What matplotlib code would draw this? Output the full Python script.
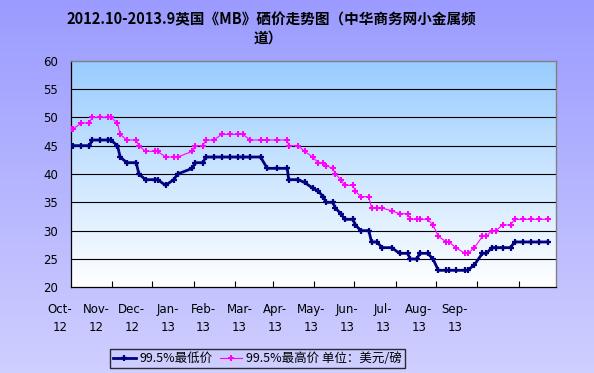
import matplotlib
matplotlib.use("Agg")
import matplotlib.pyplot as plt
import numpy as np
import pandas as pd
from matplotlib.colors import LinearSegmentedColormap
from matplotlib.lines import Line2D

plt.rcParams['font.family'] = ['Noto Sans CJK SC', 'DejaVu Sans']

title_lines = ["2012.10-2013.9英国《MB》硒价走势图（中华商务网小金属频", "道）"]
series_names = ["99.5%最低价", "99.5%最高价 单位：美元/磅"]
month_labels = ["Oct-\n12", "Nov-\n12", "Dec-\n12", "Jan-\n13", "Feb-\n13", "Mar-\n13",
                "Apr-\n13", "May-\n13", "Jun-\n13", "Jul-\n13", "Aug-\n13", "Sep-\n13"]
y_ticks = [20, 25, 30, 35, 40, 45, 50, 55, 60]

dates = ["2012-10-01", "2012-10-03", "2012-10-09", "2012-10-15", "2012-10-17", "2012-10-23",
         "2012-10-29", "2012-10-31", "2012-11-05", "2012-11-07", "2012-11-12", "2012-11-19",
         "2012-11-21", "2012-11-26", "2012-12-03", "2012-12-05", "2012-12-11", "2012-12-17",
         "2012-12-20", "2012-12-31", "2013-01-02", "2013-01-08", "2013-01-10", "2013-01-16",
         "2013-01-22", "2013-01-28", "2013-02-03", "2013-02-07", "2013-02-12", "2013-02-20",
         "2013-02-25", "2013-03-04", "2013-03-12", "2013-03-13", "2013-03-20", "2013-03-25",
         "2013-03-31", "2013-04-04", "2013-04-08", "2013-04-10", "2013-04-15", "2013-04-17",
         "2013-04-21", "2013-04-24", "2013-04-30", "2013-05-02", "2013-05-06", "2013-05-12",
         "2013-05-14", "2013-05-18", "2013-05-22", "2013-05-29", "2013-06-04", "2013-06-10",
         "2013-06-12", "2013-06-17", "2013-06-19", "2013-06-25", "2013-06-29", "2013-07-03",
         "2013-07-09", "2013-07-11", "2013-07-16", "2013-07-23", "2013-07-25", "2013-07-30",
         "2013-08-05", "2013-08-08", "2013-08-12", "2013-08-15", "2013-08-20", "2013-08-26",
         "2013-08-29", "2013-09-04", "2013-09-10", "2013-09-16", "2013-09-23"]

low = [45, 45, 45, 45, 46, 46, 46, 46, 45, 43, 42, 42,
       40, 39, 39, 39, 38, 39, 40, 41, 42, 42, 43, 43,
       43, 43, 43, 43, 43, 43, 41, 41, 41, 39, 39, 38.5,
       37.5, 37, 36, 35, 35, 34, 33, 32, 32, 31, 30, 30,
       28, 28, 27, 27, 26, 26, 25, 25, 26, 26, 25, 23,
       23, 23, 23, 23, 23, 24, 26, 26, 27, 27, 27, 27,
       28, 28, 28, 28, 28]

high = [48, 48, 49, 49, 50, 50, 50, 50, 49, 47, 46, 46,
        45, 44, 44, 44, 43, 43, 43, 44, 45, 45, 46, 46,
        47, 47, 47, 47, 46, 46, 46, 46, 46, 45, 45, 44,
        43, 42, 42, 41.5, 41, 40, 39, 38, 38, 37, 36, 36,
        34, 34, 34, 33.5, 33, 33, 32, 32, 32, 32, 31, 29,
        28, 28, 27, 26, 26, 27, 29, 29, 30, 30, 31, 31,
        32, 32, 32, 32, 32]

x = pd.to_datetime(dates)

W, H = 594, 373
fig = plt.figure(figsize=(W / 100, H / 100), dpi=100)

# figure background gradient
bg = fig.add_axes([0, 0, 1, 1], zorder=-10)
bg_cmap = LinearSegmentedColormap.from_list("bg", ["#CFCFFF", "#9B9BFF"])
bg.imshow(np.linspace(0, 1, 256).reshape(-1, 1)[::-1], cmap=bg_cmap, aspect='auto',
          extent=[0, 1, 0, 1])
bg.set_axis_off()

left, right, top, bottom = 70.7, 556, 60.7, 287.3
ax = fig.add_axes([left / W, 1 - bottom / H, (right - left) / W, (bottom - top) / H])
ax.set_facecolor('none')
pa_cmap = LinearSegmentedColormap.from_list("pa", ["#FFFFFF", "#99CCFF"])
ax.imshow(np.linspace(0, 1, 256).reshape(-1, 1)[::-1], cmap=pa_cmap, aspect='auto',
          extent=[0, 1, 0, 1], transform=ax.transAxes, zorder=0)

for v in y_ticks[1:-1]:
    ax.axhline(v, color='black', lw=0.8, zorder=1)

ax.plot(x, low, color='#000080', lw=2.0, marker='+', ms=5, mew=1.6, zorder=3,
        label=series_names[0])
ax.plot(x, high, color='#FF00FF', lw=0.8, marker='P', ms=4, mew=0, zorder=3,
        label=series_names[1])

ax.set_ylim(20, 60)
ax.set_yticks(y_ticks)
ax.set_yticklabels([str(v) for v in y_ticks], fontsize=8.5, family='DejaVu Sans')
ax.tick_params(axis='y', length=0, pad=9)
ax.set_xlim(pd.Timestamp("2012-10-01"), pd.Timestamp("2013-09-29"))
ax.set_xticks(pd.date_range("2012-11-01", "2013-09-01", freq="MS"))
ax.set_xticklabels([])
ax.tick_params(axis='x', direction='in', length=4, width=0.8, color='black')

for s in ['left', 'bottom']:
    ax.spines[s].set_color('black')
    ax.spines[s].set_linewidth(0.9)
for s in ['top', 'right']:
    ax.spines[s].set_color('#808080')
    ax.spines[s].set_linewidth(1.0)

# month labels
for i, lab in enumerate(month_labels):
    cx = 60 + i * 35.9
    fig.text(cx / W, 1 - 318.5 / H, lab, ha='center', va='center', ma='center',
             fontsize=8.5, family='DejaVu Sans', linespacing=1.45)

# title
fig.text(271 / W, 1 - 19 / H, title_lines[0], ha='center', va='center',
         fontsize=10.5, fontweight='bold')
fig.text(268 / W, 1 - 37.5 / H, title_lines[1], ha='center', va='center',
         fontsize=10.5, fontweight='bold')

handles = [Line2D([], [], color='#000080', lw=2.0, marker='+', ms=5, mew=1.6),
           Line2D([], [], color='#FF00FF', lw=0.8, marker='P', ms=4, mew=0)]
leg = fig.legend(handles, series_names, loc='center', ncol=2,
                 bbox_to_anchor=(257.5 / W, 1 - 358.5 / H),
                 fontsize=9, frameon=True, fancybox=False, handlelength=1.8,
                 handletextpad=0.3, columnspacing=0.6, borderpad=0.25,
                 borderaxespad=0)
leg.get_frame().set_facecolor('none')
leg.get_frame().set_edgecolor('black')
leg.get_frame().set_linewidth(1.0)

fig.savefig("out.png", dpi=100)
